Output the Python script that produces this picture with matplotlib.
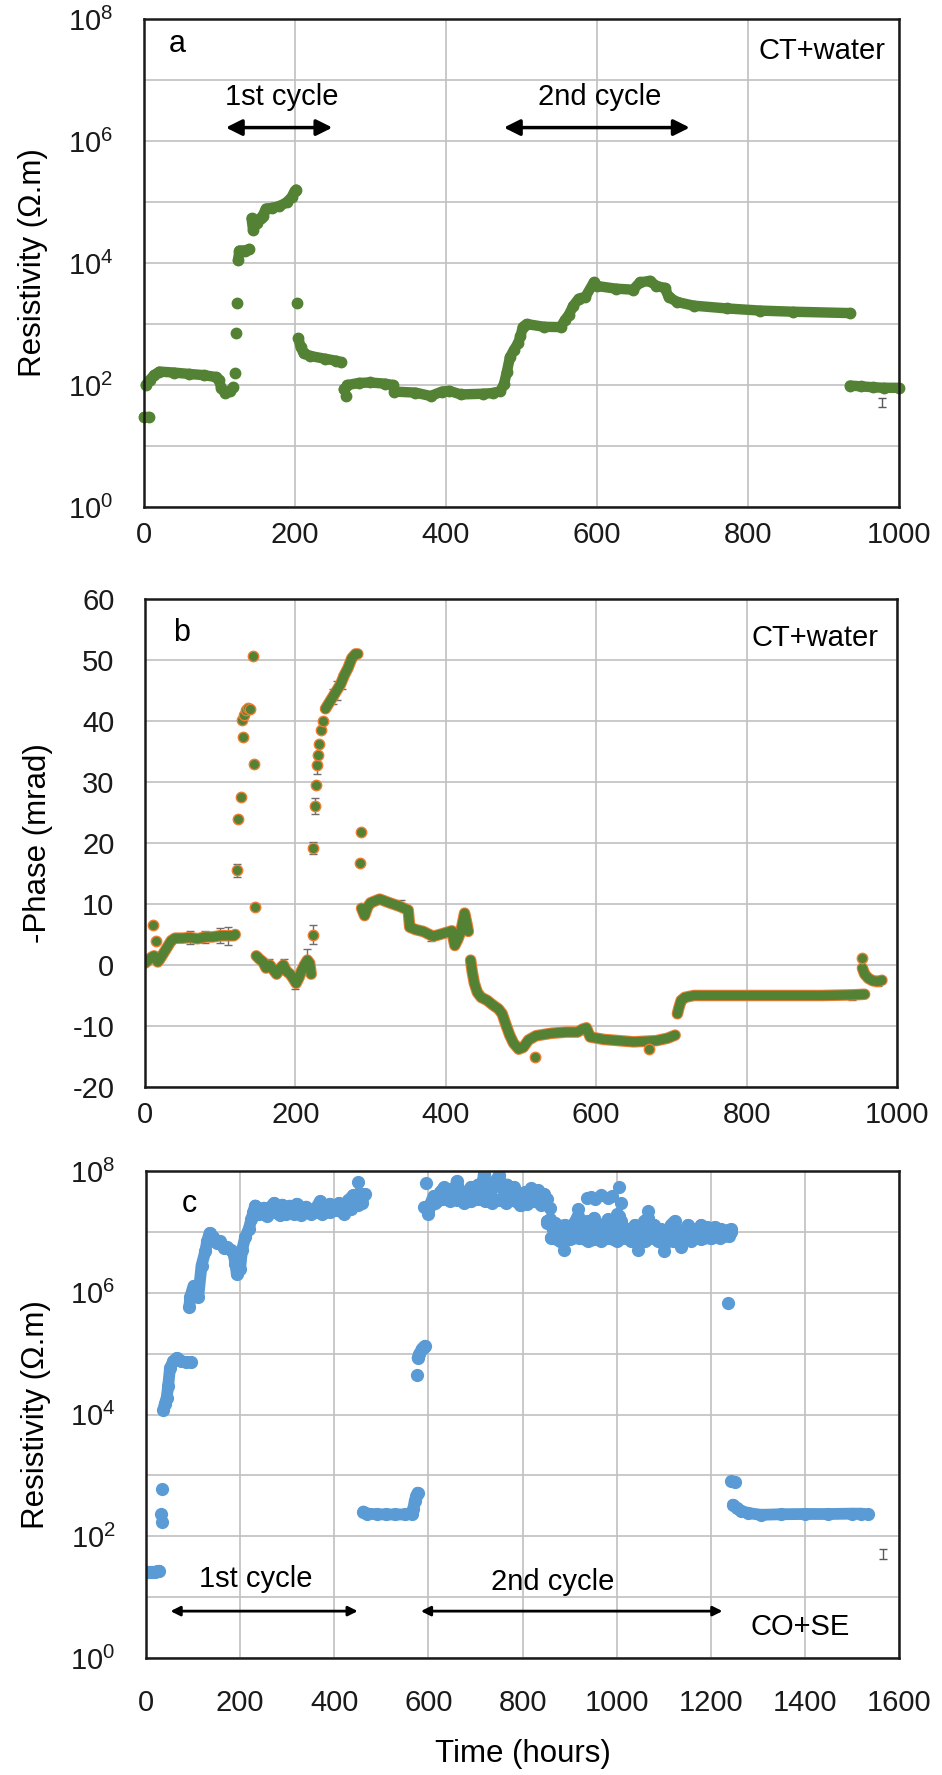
import matplotlib
matplotlib.use('Agg')
import matplotlib.pyplot as plt
from matplotlib.ticker import FixedLocator, FuncFormatter, NullLocator
import numpy as np

plt.rcParams['font.family'] = ['Liberation Sans', 'DejaVu Sans']
plt.rcParams['mathtext.fontset'] = 'custom'
plt.rcParams['mathtext.rm'] = 'Liberation Sans'
plt.rcParams['mathtext.it'] = 'Liberation Sans:italic'
plt.rcParams['mathtext.bf'] = 'Liberation Sans:bold'
plt.rcParams['axes.unicode_minus'] = False

# ---------------- Panel a : resistivity, CT+water ----------------
a_seg_t = [
    [0, 7],
    [3, 8, 14, 21, 40, 60, 80, 96, 100, 103, 108, 114, 119],
    [125, 127, 130, 135, 140],
    [143, 145, 150, 155, 158, 162, 170, 180, 190, 196, 200, 202],
    [205, 208, 212, 220, 240, 255, 262],
    [266, 270, 285, 300, 320, 330, 332, 360, 380, 395, 405, 420, 450, 463, 472,
     477, 481, 485, 490, 496, 499, 502, 507, 530, 552, 558, 563, 569, 576, 585,
     596, 600, 625, 648, 657, 670, 679, 690, 695, 706, 728, 772, 816, 860, 935],
    [935, 950, 965, 980, 1000],
]
a_seg_rho = [
    [30, 30],
    [100, 120, 145, 166, 160, 152, 145, 135, 120, 88, 75, 80, 91],
    [11000, 16000, 16000, 16000, 17000],
    [54000, 35000, 45000, 55000, 60000, 78000, 80000, 85000, 100000, 120000, 150000, 160000],
    [580, 420, 330, 300, 270, 250, 235],
    [85, 100, 108, 110, 105, 100, 78, 75, 66, 78, 80, 70, 72, 74, 79,
     102, 166, 285, 370, 490, 630, 890, 1000, 900, 890, 1170, 1420, 2000, 2600, 2800,
     4800, 4200, 3800, 3650, 4800, 5100, 4200, 3900, 2800, 2300, 2000, 1800, 1660, 1590, 1510],
    [98, 95, 92, 90, 90],
]
a_pts_t = [121, 123, 124, 203, 265, 268]
a_pts_rho = [155, 720, 2200, 2200, 85, 65]
a_err_t = [977]
a_err_rho = [52]
a_err = [9]

# ---------------- Panel b : -phase, CT+water ----------------
b_seg_t = [
    [0, 3, 6, 9, 12, 15, 17, 20, 25, 30, 35, 40, 50, 60, 70, 80, 90, 100, 110, 118, 120],
    [148, 152, 157, 161, 166, 170, 175, 180, 184, 188, 193, 197, 201, 205, 208, 212, 216, 219, 221],
    [240, 245, 250, 255, 260, 265, 270, 275, 280, 283],
    [288, 292, 296, 300, 312, 325, 339, 350, 352, 360, 370, 383, 392, 400, 408, 412, 416, 420, 425, 428, 430],
    [433, 435, 438, 442, 447, 455, 462, 470, 475, 480, 485, 490, 497, 503, 510, 520, 540, 560, 575,
     582, 587, 592, 610, 630, 650, 665, 680, 695, 705],
    [708, 710, 713, 718, 730, 760, 800, 850, 900, 940, 957],
    [954, 957, 962, 968, 975, 980],
]
b_seg_ph = [
    [0.3, 0.6, 1.0, 1.3, 1.5, 1.0, 0.5, 1.0, 2.0, 3.0, 4.0, 4.4, 4.4, 4.5, 4.3, 4.6, 4.6, 4.8, 4.8, 4.8, 5.0],
    [1.5, 1.0, 0.5, -0.5, 0.0, -0.7, -1.5, -0.5, 0.0, -1.0, -1.5, -2.2, -3.0, -2.0, -1.0, 0.0, 0.8, 0.3, -1.5],
    [42, 43, 44, 45, 46, 47.5, 48.7, 50.3, 51, 51],
    [9.3, 8.1, 9.5, 10.2, 10.8, 10.2, 9.6, 9.0, 6.2, 5.8, 5.5, 4.7, 5.0, 5.3, 5.6, 3.2, 4.2, 5.5, 8.5, 6.8, 5.5],
    [0.8, -1.0, -3.0, -4.5, -5.3, -5.8, -6.5, -7.2, -8.0, -9.8, -11.5, -12.8, -13.8, -13.5, -12.3, -11.6, -11.2, -11.0, -11.0,
     -10.5, -10.3, -11.8, -12.2, -12.4, -12.6, -12.5, -12.4, -12.0, -11.5],
    [-8.0, -7.0, -5.8, -5.3, -5.0, -5.0, -5.0, -5.0, -5.0, -4.9, -4.8],
    [-0.5, -1.5, -2.2, -2.6, -2.7, -2.5],
]
b_pts_t = [11, 14, 123, 124, 127, 130, 129, 131, 134, 137, 140, 143, 145, 146,
           223, 224, 226, 228, 229, 230, 232, 234, 237, 286, 287, 518, 670, 953]
b_pts_ph = [6.5, 4.0, 15.5, 24, 27.5, 37.3, 40.2, 41, 41.8, 42.2, 42, 50.7, 33, 9.5,
            5.0, 19.2, 26, 29.5, 32.8, 34.5, 36.3, 38.5, 40, 16.8, 21.8, -15.0, -13.8, 1.2]
b_eb_t = [60, 80, 100, 110, 123, 165, 185, 200, 215, 223, 224, 226, 229, 250, 255, 262, 340, 380, 410, 940, 975]
b_eb_ph = [4.5, 4.6, 4.8, 4.8, 15.5, 0.0, 0.0, -3.0, 0.8, 5.0, 19.2, 26, 32.8, 44, 45, 46.5, 9.8, 4.8, 5.4, -4.9, -2.7]
b_eb_err = [1.0, 1.0, 1.2, 1.5, 1.0, 1.0, 1.0, 1.0, 1.8, 1.5, 1.0, 1.3, 1.5, 1.2, 1.5, 1.2, 0.8, 0.8, 0.8, 0.8, 0.8]

# ---------------- Panel c : resistivity, CO+SE ----------------
c_seg_t = [
    [0, 5, 10, 15, 20, 25, 28],
    [37, 40, 44, 47, 51, 58, 65, 75, 85, 95],
    [92, 94, 101, 106, 111, 118, 126, 130, 135, 143, 150, 157, 165, 172, 180, 186, 190, 193, 196, 200,
     204, 211, 218, 224, 228, 232],
    [232, 240, 250, 258, 265, 272, 280, 290, 298, 305, 312, 320, 330, 340, 350, 360, 370, 380, 390,
     400, 410, 420, 430, 440, 446, 452, 458, 466],
    [240, 255, 270, 285, 300, 315, 330, 345, 360, 375, 390, 405, 420, 435, 450, 460],
    [462, 470, 490, 510, 530, 550, 565, 568, 571, 574, 577],
    [577, 581, 586, 590, 593],
    [596, 600, 605, 611, 618, 625, 633, 640, 648, 655, 660, 668, 675, 682, 690, 697, 705, 712, 718, 725,
     732, 740, 750, 758, 768, 775, 782, 790, 797, 805, 812, 818, 826, 833, 840, 846, 852],
    [600, 615, 630, 645, 660, 675, 690, 705, 720, 735, 750, 765, 780, 795, 810, 825, 840],
    [852, 858, 864, 870, 876, 882, 889, 895, 902, 910, 917, 924, 930, 938, 945, 952, 960, 967, 974, 981,
     988, 995, 1002, 1006, 1010, 1016, 1023, 1030, 1038, 1045, 1052, 1059, 1066, 1073, 1080, 1087, 1094,
     1101, 1108, 1115, 1123, 1130, 1137, 1144, 1151, 1158, 1165, 1172, 1179, 1186, 1193, 1200, 1208,
     1215, 1222, 1229, 1236, 1242],
    [852, 870, 890, 910, 930, 950, 970, 990, 1010, 1030, 1050, 1070, 1090, 1110, 1130, 1150, 1170,
     1190, 1210, 1230, 1242],
    [860, 880, 900, 920, 940, 960, 980, 1000, 1020, 1040, 1060, 1080, 1100, 1120, 1140, 1160, 1180,
     1200, 1220, 1238],
    [1247, 1255, 1265, 1280, 1307, 1350, 1400, 1450, 1500, 1520, 1535],
]
c_seg_rho = [
    [26, 26, 26, 26, 26, 27, 27],
    [12000, 15000, 19000, 29000, 58000, 75000, 85000, 75000, 72000, 72000],
    [5.8e5, 8.5e5, 1.3e6, 1.1e6, 8.5e5, 2.8e6, 4.8e6, 7e6, 9.6e6, 8.3e6, 6.5e6, 7e6, 5.5e6, 5.6e6, 5e6,
     4.4e6, 3e6, 2e6, 3.2e6, 2.5e6, 5e6, 8.3e6, 1.1e7, 1.6e7, 2.1e7, 2.7e7],
    [2.7e7, 2.2e7, 2.5e7, 1.8e7, 2.6e7, 3.0e7, 2.3e7, 2.8e7, 2.0e7, 2.7e7, 2.2e7, 2.9e7, 2.1e7, 2.6e7,
     2.0e7, 2.4e7, 3.2e7, 2.4e7, 2.9e7, 2.3e7, 3.0e7, 2.2e7, 3.3e7, 4.0e7, 3.0e7, 4.3e7, 3.6e7, 4.2e7],
    [2.0e7, 1.9e7, 2.1e7, 1.9e7, 2.2e7, 2.0e7, 1.9e7, 2.2e7, 2.1e7, 2.0e7, 2.1e7, 2.3e7, 2.0e7, 2.4e7,
     2.8e7, 3.0e7],
    [255, 235, 230, 228, 228, 228, 232, 280, 380, 450, 520],
    [85000, 100000, 120000, 130000, 135000],
    [2.5e7, 2.0e7, 3.0e7, 3.9e7, 3.2e7, 4.5e7, 5.4e7, 4.0e7, 5.0e7, 3.5e7, 6.8e7, 4.5e7, 3.6e7, 4.2e7,
     5.5e7, 3.8e7, 6.0e7, 4.5e7, 9.0e7, 5.0e7, 3.8e7, 6.5e7, 8.5e7, 5.0e7, 6.0e7, 4.0e7, 5.5e7, 3.5e7,
     2.8e7, 4.5e7, 3.5e7, 5.2e7, 3.8e7, 4.8e7, 3.6e7, 4.2e7, 3.5e7],
    [2.4e7, 3.0e7, 3.5e7, 3.2e7, 3.4e7, 3.0e7, 3.2e7, 3.5e7, 3.2e7, 3.0e7, 3.4e7, 3.0e7, 3.3e7, 2.8e7,
     2.9e7, 3.2e7, 2.8e7],
    [1.4e7, 1.6e7, 1.1e7, 1.4e7, 9e6, 7e6, 9e6, 1.2e7, 8e6, 1.4e7, 1.8e7, 1.2e7, 8e6, 1.5e7, 1.3e7, 1.7e7,
     1.0e7, 7e6, 1.3e7, 1.6e7, 1.2e7, 8e6, 1.4e7, 1.8e7, 1.5e7, 1.1e7, 1.1e7, 7e6, 1.3e7, 6.5e6, 1.2e7,
     1.5e7, 1.7e7, 9e6, 1.3e7, 7e6, 1.1e7, 6e6, 9e6, 1.3e7, 1.5e7, 8e6, 6.5e6, 1.0e7, 1.3e7, 7e6,
     1.1e7, 8e6, 1.3e7, 9e6, 1.2e7, 8e6, 1.2e7, 9e6, 1.1e7, 1.0e7, 1.0e7, 1.0e7],
    [1.5e7, 1.2e7, 1.3e7, 1.1e7, 1.2e7, 1.0e7, 1.1e7, 1.0e7, 1.2e7, 1.0e7, 1.1e7, 9e6, 1.0e7, 9e6, 1.0e7,
     9.5e6, 1.0e7, 9e6, 1.0e7, 1.05e7, 1.1e7],
    [8e6, 7e6, 7.5e6, 8e6, 7e6, 7.5e6, 8e6, 7e6, 8e6, 7.5e6, 7e6, 8e6, 7.5e6, 7e6, 7.5e6, 8e6, 7.5e6,
     8e6, 8e6, 8.5e6],
    [330, 290, 260, 240, 225, 230, 232, 232, 235, 235, 228],
]
c_pts_t = [32, 33, 35, 450, 575, 590, 596, 858, 889, 917, 938, 945, 955, 967, 981, 991, 1000, 1006,
           1010, 1045, 1066, 1101, 1137, 1236, 1244, 1252]
c_pts_rho = [230, 170, 600, 6.5e7, 45000, 2.6e7, 6.3e7, 2.5e7, 5e6, 2.4e7, 3.6e7, 3.8e7, 3.5e7, 4.0e7,
             3.6e7, 3.9e7, 2.0e7, 5.4e7, 3.0e7, 5e6, 2.2e7, 4.8e6, 5.6e6, 6.8e5, 800, 780]
c_err_t = [1566]
c_err_rho = [52]
c_err = [9]

GREEN = '#548235'
ORANGE = '#ed7d31'
BLUE = '#5b9bd5'
GRID = '#c0c0c0'

fig = plt.figure(figsize=(9.42, 17.75), dpi=100)
W, H = 942.0, 1775.0
def box(l, r, t, b):
    return [l / W, 1 - b / H, (r - l) / W, (b - t) / H]

axa = fig.add_axes(box(143.5, 899, 19, 507))
axb = fig.add_axes(box(145, 897, 599, 1087))
axc = fig.add_axes(box(146, 899, 1171, 1658))

TICKFS = 21
LABFS = 22.5
ANNFS = 21

def logfmt(v, pos):
    e = int(round(np.log10(v)))
    if e % 2 == 0:
        return r'$\mathregular{10^{%d}}$' % e
    return ''

def style(ax):
    for s in ax.spines.values():
        s.set_linewidth(1.8)
        s.set_color('#1a1a1a')
        s.set_zorder(5)
    ax.grid(True, color=GRID, linewidth=1.2, zorder=0)
    ax.set_axisbelow(True)
    ax.tick_params(axis='both', length=0, labelsize=TICKFS, colors='#1a1a1a')
    ax.tick_params(axis='x', pad=10)
    ax.tick_params(axis='y', pad=22)

def setup_log(ax):
    ax.set_yscale('log')
    ax.set_ylim(1, 1e8)
    ax.yaxis.set_major_locator(FixedLocator([10.0 ** k for k in range(0, 9)]))
    ax.yaxis.set_minor_locator(NullLocator())
    ax.yaxis.set_major_formatter(FuncFormatter(logfmt))

# ---- panel a
style(axa)
setup_log(axa)
axa.set_xlim(0, 1000)
axa.set_xticks(range(0, 1001, 200))
for ts, vs in zip(a_seg_t, a_seg_rho):
    axa.plot(ts, vs, '-o', color=GREEN, lw=7.5, ms=7.5, solid_capstyle='round',
             solid_joinstyle='round', zorder=3, clip_on=False)
axa.plot(a_pts_t, a_pts_rho, 'o', color=GREEN, ms=7.5, zorder=3)
axa.errorbar(a_err_t, a_err_rho, yerr=a_err, fmt='none', ecolor='#595959', elinewidth=1, capsize=3, zorder=3)
axa.set_ylabel('Resistivity (\u03a9.m)', fontsize=LABFS, labelpad=14)
axa.text(0.045, 0.948, 'a', transform=axa.transAxes, fontsize=ANNFS + 1, ha='center', va='center')
axa.text(0.982, 0.934, 'CT+water', transform=axa.transAxes, fontsize=ANNFS, ha='right', va='center')
axa.text(183, 10 ** 6.72, '1st cycle', fontsize=ANNFS, ha='center', va='center')
axa.text(604, 10 ** 6.72, '2nd cycle', fontsize=ANNFS, ha='center', va='center')
for x0, x1 in [(109, 250), (477, 723)]:
    axa.annotate('', xy=(x1, 10 ** 6.22), xytext=(x0, 10 ** 6.22),
                 arrowprops=dict(arrowstyle='<|-|>', color='black', lw=2.5, mutation_scale=24,
                                 shrinkA=0, shrinkB=0))

# ---- panel b
style(axb)
axb.set_xlim(0, 1000)
axb.set_xticks(range(0, 1001, 200))
axb.set_ylim(-20, 60)
axb.set_yticks(range(-20, 61, 10))
axb.errorbar(b_eb_t, b_eb_ph, yerr=b_eb_err, fmt='none', ecolor='#6e6e6e', elinewidth=1, capsize=3, zorder=2)
for ts, vs in zip(b_seg_t, b_seg_ph):
    axb.plot(ts, vs, '-', color=ORANGE, lw=8.3, solid_capstyle='round', solid_joinstyle='round', zorder=3)
    axb.plot(ts, vs, '-', color=GREEN, lw=6.8, solid_capstyle='round', solid_joinstyle='round', zorder=3)
axb.plot(b_pts_t, b_pts_ph, 'o', color=GREEN, ms=7.5, mec=ORANGE, mew=1.0, zorder=4)
axb.set_ylabel('-Phase (mrad)', fontsize=LABFS, labelpad=14)
axb.text(0.048, 0.93, 'b', transform=axb.transAxes, fontsize=ANNFS + 1, ha='center', va='center')
axb.text(0.976, 0.92, 'CT+water', transform=axb.transAxes, fontsize=ANNFS, ha='right', va='center')

# ---- panel c
style(axc)
setup_log(axc)
axc.tick_params(axis='x', pad=22)
axc.set_xlim(0, 1600)
axc.set_xticks(range(0, 1601, 200))
for ts, vs in zip(c_seg_t, c_seg_rho):
    axc.plot(ts, vs, '-o', color=BLUE, lw=8.5, ms=8.5, solid_capstyle='round',
             solid_joinstyle='round', zorder=3)
axc.plot(c_pts_t, c_pts_rho, 'o', color=BLUE, ms=8.5, zorder=3)
axc.errorbar(c_err_t, c_err_rho, yerr=c_err, fmt='none', ecolor='#595959', elinewidth=1, capsize=3, zorder=3)
axc.set_ylabel('Resistivity (\u03a9.m)', fontsize=LABFS, labelpad=14)
axc.set_xlabel('Time (hours)', fontsize=LABFS, labelpad=16)
axc.text(0.057, 0.933, 'c', transform=axc.transAxes, fontsize=ANNFS + 1, ha='center', va='center')
axc.text(234, 10 ** 1.29, '1st cycle', fontsize=ANNFS, ha='center', va='center')
axc.text(864, 10 ** 1.25, '2nd cycle', fontsize=ANNFS, ha='center', va='center')
axc.text(1389, 10 ** 0.51, 'CO+SE', fontsize=ANNFS, ha='center', va='center')
for x0, x1 in [(52, 450), (584, 1225)]:
    axc.annotate('', xy=(x1, 10 ** 0.77), xytext=(x0, 10 ** 0.77),
                 arrowprops=dict(arrowstyle='<|-|>', color='black', lw=2.0, mutation_scale=14,
                                 shrinkA=0, shrinkB=0))

fig.savefig('out.png', dpi=100, facecolor='white')
